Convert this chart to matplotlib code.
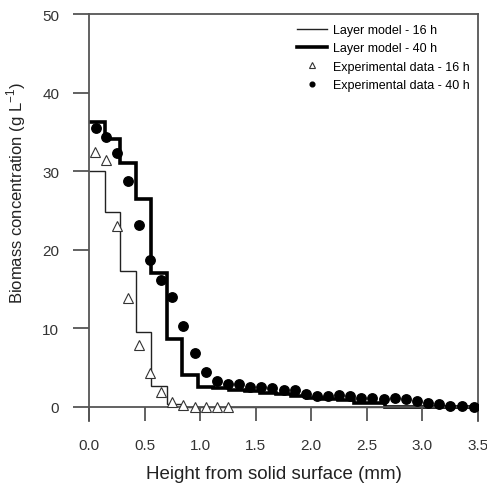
import numpy as np
import matplotlib.pyplot as plt
import matplotlib as mpl

mpl.style.use('default')
plt.rcParams['font.family'] = ['Liberation Sans', 'DejaVu Sans']

# layer model (25 layers of 0.14 mm)
layer_edges = [0.0, 0.14, 0.28, 0.42, 0.56, 0.70, 0.84, 0.98, 1.12, 1.26,
               1.40, 1.54, 1.68, 1.82, 1.96, 2.10, 2.24, 2.38, 2.52, 2.66,
               2.80, 2.94, 3.08, 3.22, 3.36, 3.50]
model_16h = [30.0, 24.8, 17.3, 9.5, 2.7, 0.4, 0, 0, 0, 0, 0, 0, 0, 0, 0,
             0, 0, 0, 0, 0, 0, 0, 0, 0, 0]
model_40h = [36.2, 34.1, 31.1, 26.4, 17.1, 8.6, 4.1, 2.6, 2.35, 2.2, 2.0,
             1.8, 1.6, 1.4, 1.2, 0.95, 0.9, 0.45, 0.45, 0.05, 0.03, 0.02,
             0.0, 0.0, 0.0]

# experimental data
x_16h = [0.05, 0.15, 0.25, 0.35, 0.45, 0.55, 0.65, 0.75, 0.85, 0.95, 1.05,
         1.15, 1.25]
y_16h = [32.4, 31.4, 23.0, 13.9, 7.9, 4.3, 1.95, 0.6, 0.25, 0.05, 0.05,
         0.05, 0.05]
x_40h = [0.06, 0.15, 0.25, 0.35, 0.45, 0.55, 0.65, 0.75, 0.85, 0.95, 1.05,
         1.15, 1.25, 1.35, 1.45, 1.55, 1.65, 1.75, 1.85, 1.95, 2.05, 2.15,
         2.25, 2.35, 2.45, 2.55, 2.65, 2.75, 2.85, 2.95, 3.05, 3.15, 3.25,
         3.36, 3.46]
y_40h = [35.5, 34.4, 32.3, 28.8, 23.1, 18.7, 16.1, 14.0, 10.3, 6.9, 4.5,
         3.35, 2.9, 2.9, 2.5, 2.6, 2.4, 2.1, 2.2, 1.65, 1.45, 1.35, 1.55,
         1.35, 1.15, 1.1, 1.0, 1.1, 1.0, 0.76, 0.5, 0.38, 0.17, 0.09, 0.04]

fig = plt.figure(figsize=(4.87, 4.85), dpi=100)
ax = fig.add_axes([0.1828, 0.130, 0.7987, 0.839])

ax.stairs(model_16h, layer_edges, baseline=None, color='#222222', lw=1.0,
          label='Layer model - 16 h')
ax.stairs(model_40h, layer_edges, baseline=None, color='black', lw=2.6,
          label='Layer model - 40 h')
ax.plot(x_16h, y_16h, '^', ms=7.3, mfc='white', mec='#333333', mew=0.8,
        label='Experimental data - 16 h', zorder=3)
ax.plot(x_40h, y_40h, 'o', ms=6.8, color='black',
        label='Experimental data - 40 h', zorder=3)

ax.set_xlim(0, 3.5)
ax.set_ylim(-1.78, 50)
ax.spines['bottom'].set_position(('data', 0))
for s in ax.spines.values():
    s.set_color('#555555')
    s.set_linewidth(1.3)
ax.set_xticks([0.0, 0.5, 1.0, 1.5, 2.0, 2.5, 3.0, 3.5])
ax.set_xticklabels(['0.0', '0.5', '1.0', '1.5', '2.0', '2.5', '3.0', '3.5'])
ax.set_yticks([0, 10, 20, 30, 40, 50])
ax.tick_params(axis='x', direction='out', length=10, width=1.3,
               color='#555555', pad=12, labelsize=11, labelcolor='#333333')
ax.tick_params(axis='y', direction='out', length=11.5, width=1.3,
               color='#555555', pad=10, labelsize=11, labelcolor='#333333')
ax.set_xlabel('Height from solid surface (mm)', fontsize=13.5,
              color='#222222')
ax.set_ylabel('Biomass concentration (g L$^{\\mathregular{-1}}$)',
              fontsize=12, color='#222222')
ax.xaxis.set_label_coords(0.476, -0.108)
ax.yaxis.set_label_coords(-0.158, 0.563)

ax.legend(loc='upper left', bbox_to_anchor=(0.535, 0.975), frameon=False,
          fontsize=9, borderpad=0, borderaxespad=0, handlelength=2.4,
          handletextpad=0.5, labelspacing=0.5, markerscale=0.5)

fig.savefig('out.png', dpi=100)
